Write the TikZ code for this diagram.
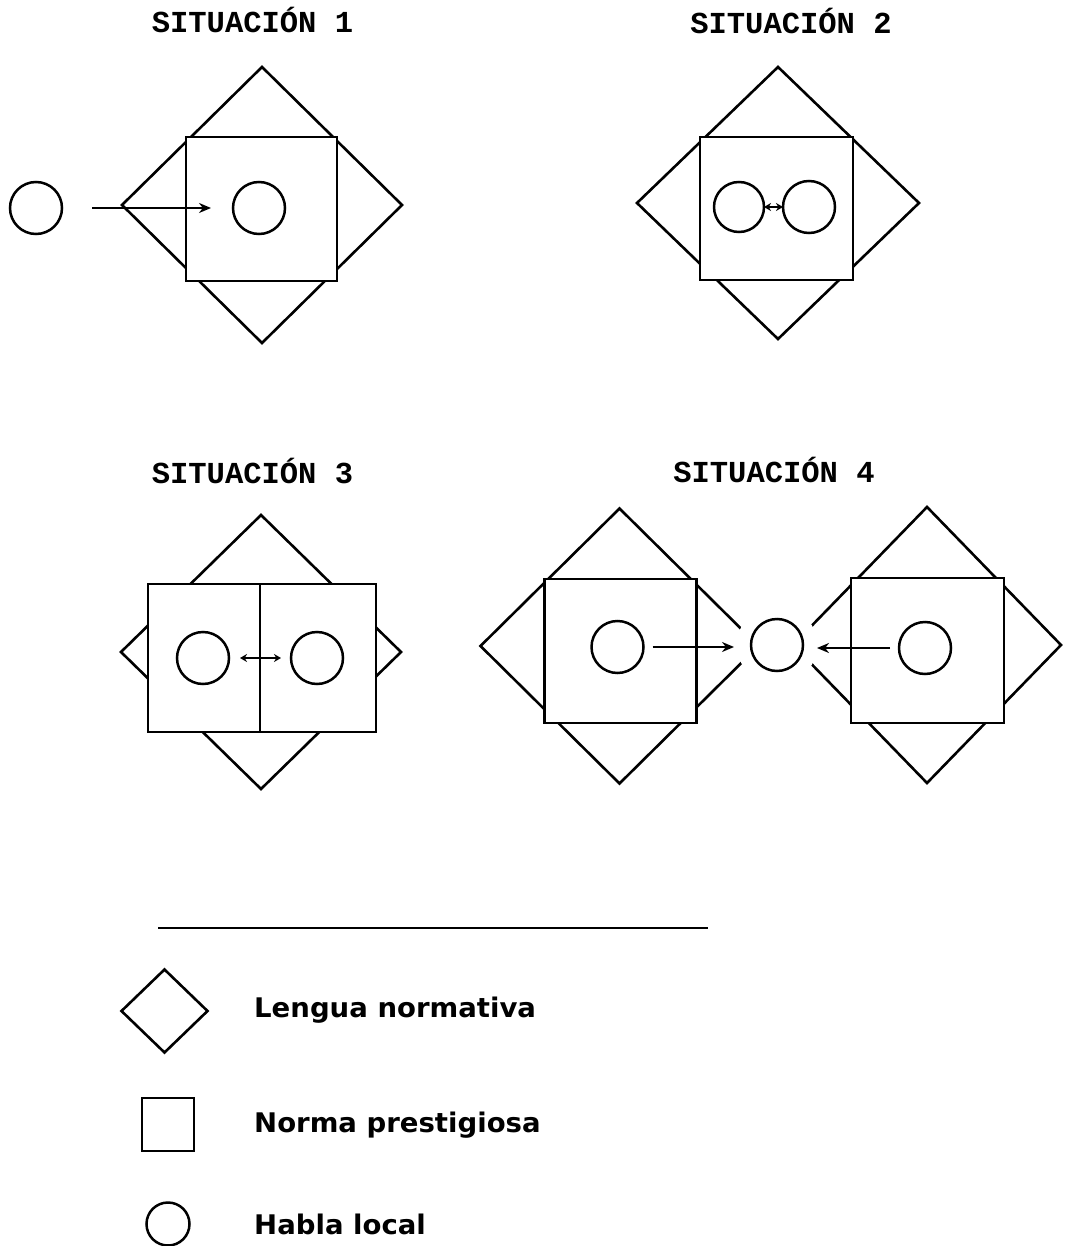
\documentclass[tikz,border=0pt]{standalone}
\usepackage{fontspec}
\usetikzlibrary{shapes.geometric,arrows.meta}
\newfontfamily\titlefont{Liberation Mono}
\newfontfamily\legfont{DejaVu Sans}
\begin{document}
\begin{tikzpicture}[x=1pt,y=-1pt,
  shp/.style={draw, line width=2.6pt, inner sep=0pt, outer sep=0pt},
  lozenge/.style={shp, diamond},
  box/.style={shp, rectangle, fill=white},
  hab/.style={shp, circle, minimum size=52pt, line width=2.5pt},
  ttl/.style={font=\titlefont\bfseries\fontsize{30.5}{30}\selectfont, inner sep=0pt, anchor=base},
  leg/.style={font=\legfont\bfseries\fontsize{27}{30}\selectfont, anchor=base west, inner sep=0pt},
  arr/.style={line width=2.5pt, -{Stealth[length=12pt,width=10pt]}},
  darr/.style={line width=2.5pt, {Stealth[length=7pt,width=8pt]}-{Stealth[length=7pt,width=8pt]}}]
\useasboundingbox (0,0) rectangle (1065,1246);
\fill[white] (0,0) rectangle (1065,1246);

% ---------- Situacion 1
\node[ttl] (t1) at (252.5,33) {SITUACIÓN 1};
\node[lozenge, minimum width=280pt, minimum height=276pt] (d1) at (262,205) {};
\node[box, minimum width=151pt, minimum height=144pt] (s1) at (261.5,209) {};
\node[hab] (o1) at (36,208) {};
\node[hab] (i1) at (259,208) {};
\draw[arr, shorten <=30pt, shorten >=22pt] (o1) -- (i1);

% ---------- Situacion 2
\node[ttl] (t2) at (791,34) {SITUACIÓN 2};
\node[lozenge, minimum width=282pt, minimum height=272pt] (d2) at (778,203) {};
\node[box, minimum width=153pt, minimum height=143pt] (s2) at (776.5,208.5) {};
\node[hab, minimum size=50pt] (a2) at (739,207) {};
\node[hab] (b2) at (809,207) {};
\draw[darr] (a2) -- (b2);

% ---------- Situacion 3
\node[ttl] (t3) at (252.5,483) {SITUACIÓN 3};
\node[lozenge, minimum width=280pt, minimum height=274pt] (d3) at (261,652) {};
\node[box, minimum width=228pt, minimum height=148pt] (s3) at (262,658) {};
\coordinate (v3t) at (260,584);
\coordinate (v3b) at (260,732);
\draw[line width=2.6pt] (v3t) -- (v3b);
\node[hab] (a3) at (203,658) {};
\node[hab] (b3) at (317,658) {};
\draw[darr, shorten <=11pt, shorten >=10pt] (a3) -- (b3);

% ---------- Situacion 4
\node[ttl] (t4) at (774,482) {SITUACIÓN 4};
\node[lozenge, minimum width=278pt, minimum height=275pt] (d4a) at (619.5,646) {};
\node[lozenge, minimum width=268pt, minimum height=276pt] (d4b) at (927,645) {};
\coordinate (c4) at (777,645);
\fill[white] (c4) circle (40pt);
\node[box, minimum width=152pt, minimum height=144pt] (s4a) at (620.5,651) {};
\node[box, minimum width=153pt, minimum height=145pt] (s4b) at (927.5,650.5) {};
\node[hab] (a4) at (617.5,647) {};
\node[hab] (m4) at (c4) {};
\node[hab] (b4) at (925,648) {};
\draw[arr, shorten <=9pt, shorten >=17pt] (a4.east) -- (m4.west |- a4.east);
\draw[arr, shorten <=9pt, shorten >=14pt] (b4.west) -- (m4.east |- b4.west);

% ---------- Legend
\coordinate (l1) at (158,928);
\coordinate (l2) at (708,928);
\draw[line width=2.6pt] (l1) -- (l2);
\node[lozenge, minimum width=86pt, minimum height=83pt] (ld) at (164.5,1011) {};
\node[box, minimum width=52pt, minimum height=53pt] (ls) at (168,1124.5) {};
\node[hab, minimum size=43pt] (lc) at (168,1224) {};
\node[leg] (tx1) at (254,1017) {\scalebox{1.02}[1]{Lengua normativa}};
\node[leg] (tx2) at (254,1132) {\scalebox{1.02}[1]{Norma prestigiosa}};
\node[leg] (tx3) at (254,1234) {\scalebox{1.02}[1]{Habla local}};
\end{tikzpicture}
\end{document}
